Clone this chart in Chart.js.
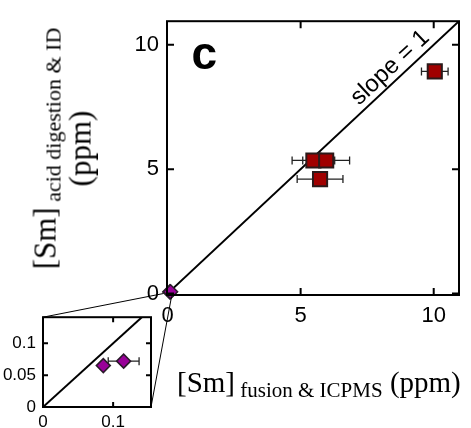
<!DOCTYPE html>
<html lang="en">
<head>
<meta charset="UTF-8">
<title>[Sm] acid digestion &amp; ID vs fusion &amp; ICPMS</title>
<script src="https://cdn.jsdelivr.net/npm/chart.js"></script>
<style>
  html, body { margin: 0; padding: 0; background: #fff; }
  body {
    width: 471px; height: 428px; position: relative; overflow: hidden;
    font-family: "Liberation Serif", "Times New Roman", serif;
  }
  canvas { position: absolute; }
  #mainChart { left: 0; top: 0; }
  #insetChart { left: 0; top: 300px; }
  .axis-title { position: absolute; color: #000; white-space: nowrap; font-size: 29px; }
  .axis-title .sub { font-size: 21px; position: relative; top: 5px; }
  #xTitle { left: 177px; top: 366px; }
  #yTitle {
    width: 340px; left: -107px; top: 115px; line-height: 32px; font-size: 31px;
    text-align: center; transform: rotate(-90deg);
  }
  #yTitle .sub { font-size: 22px; }
</style>
</head>
<body>
<canvas id="mainChart" width="471" height="428"></canvas>
<canvas id="insetChart" width="160" height="128"></canvas>
<div id="xTitle" class="axis-title">[Sm]<span class="sub"> fusion &amp; ICPMS</span> (ppm)</div>
<div id="yTitle" class="axis-title">[Sm]<span class="sub"> acid digestion &amp; ID</span><br>(ppm)</div>

<script>
// samples with x error bars (ppm)
const fusionIcpms = [5.48, 5.96, 5.73, 10.04];
const acidDigestion = [5.35, 5.35, 4.6, 8.93];
const fusionErr = [0.8, 0.88, 0.86, 0.5];

// low-Sm samples (shown in the inset)
const lowFusion = [0.086, 0.115];
const lowAcid = [0.065, 0.072];
const lowErr = [0.004, 0.022];

// 1:1 line
const slopeLine = [0, 11];

// ticks
const mainTicks = [0, 5, 10];
const insetXTicks = [0, 0.1];
const insetYTicks = [0, 0.05, 0.1];

const toPoints = (xs, ys) => xs.map((v, i) => ({ x: v, y: ys[i] }));
const sans = '"Liberation Sans", Arial, Helvetica, sans-serif';

// box + inward ticks on all four sides
function drawFrame(chart, tickLen) {
  const { ctx, chartArea: a, scales: { x, y } } = chart;
  ctx.save();
  ctx.strokeStyle = '#000';
  ctx.lineWidth = 2;
  ctx.strokeRect(a.left, a.top, a.right - a.left, a.bottom - a.top);
  ctx.beginPath();
  x.ticks.forEach(t => {
    const px = x.getPixelForValue(t.value);
    if (px <= a.left + 1 || px >= a.right - 1) return;
    ctx.moveTo(px, a.bottom); ctx.lineTo(px, a.bottom - tickLen);
    ctx.moveTo(px, a.top); ctx.lineTo(px, a.top + tickLen);
  });
  y.ticks.forEach(t => {
    const py = y.getPixelForValue(t.value);
    if (py >= a.bottom - 1 || py <= a.top + 1) return;
    ctx.moveTo(a.left, py); ctx.lineTo(a.left + tickLen, py);
    ctx.moveTo(a.right, py); ctx.lineTo(a.right - tickLen, py);
  });
  ctx.stroke();
  ctx.restore();
}

function drawErrorBars(chart, dsIndex, errs, cap) {
  const { ctx, scales: { x, y } } = chart;
  const data = chart.data.datasets[dsIndex].data;
  ctx.save();
  ctx.strokeStyle = '#222';
  ctx.lineWidth = 1.3;
  ctx.beginPath();
  data.forEach((p, i) => {
    const py = y.getPixelForValue(p.y);
    const x1 = x.getPixelForValue(p.x - errs[i]);
    const x2 = x.getPixelForValue(p.x + errs[i]);
    ctx.moveTo(x1, py); ctx.lineTo(x2, py);
    ctx.moveTo(x1, py - cap); ctx.lineTo(x1, py + cap);
    ctx.moveTo(x2, py - cap); ctx.lineTo(x2, py + cap);
  });
  ctx.stroke();
  ctx.restore();
}

function fixedTicks(values) {
  return scale => { scale.ticks = values.map(v => ({ value: v })); };
}
const plainLabel = v => String(v);

const squareStyle = {
  pointStyle: 'rect', pointRadius: 10, pointHoverRadius: 10,
  backgroundColor: '#a00000', borderColor: '#2b1a1a', pointBorderWidth: 2
};
const diamondStyle = {
  pointStyle: 'rectRot', pointRadius: 7, pointHoverRadius: 7,
  backgroundColor: '#990099', borderColor: '#2b1a2b', pointBorderWidth: 1.5
};

// ---------- inset ----------
const inset = new Chart(document.getElementById('insetChart'), {
  type: 'scatter',
  data: {
    datasets: [
      { data: toPoints(lowFusion, lowAcid), clip: false, order: 0, ...diamondStyle },
      {
        type: 'line', data: toPoints(slopeLine, slopeLine), order: 1,
        borderColor: '#000', borderWidth: 2, pointRadius: 0
      }
    ]
  },
  options: {
    responsive: false, devicePixelRatio: 1, animation: false,
    events: [],
    layout: { padding: { left: 3, top: 13, right: 9, bottom: 0 } },
    plugins: { legend: { display: false }, tooltip: { enabled: false } },
    scales: {
      x: {
        type: 'linear', min: 0, max: 0.154,
        afterBuildTicks: fixedTicks(insetXTicks),
        afterFit: s => { s.height = 21; },
        grid: { display: false, drawTicks: false }, border: { display: false },
        ticks: { padding: 5, color: '#000', callback: plainLabel, font: { family: sans, size: 17 } }
      },
      y: {
        type: 'linear', min: 0, max: 0.141,
        afterBuildTicks: fixedTicks(insetYTicks),
        afterFit: s => { s.width = 40; },
        grid: { display: false, drawTicks: false }, border: { display: false },
        ticks: { padding: 7, color: '#000', callback: plainLabel, font: { family: sans, size: 17 } }
      }
    }
  },
  plugins: [{
    id: 'insetDecor',
    beforeDatasetsDraw: c => drawErrorBars(c, 0, lowErr, 4),
    afterDraw: c => drawFrame(c, 5)
  }]
});

// ---------- main ----------
new Chart(document.getElementById('mainChart'), {
  type: 'scatter',
  data: {
    datasets: [
      { data: toPoints(fusionIcpms, acidDigestion), clip: false, order: 0, ...squareStyle },
      { data: toPoints(lowFusion, lowAcid), clip: false, order: 0, ...diamondStyle },
      {
        type: 'line', data: toPoints(slopeLine, slopeLine), order: 2,
        borderColor: '#000', borderWidth: 2, pointRadius: 0
      }
    ]
  },
  options: {
    responsive: false, devicePixelRatio: 1, animation: false,
    events: [],
    layout: { padding: { left: 127, top: 10, right: 1, bottom: 93 } },
    plugins: { legend: { display: false }, tooltip: { enabled: false } },
    scales: {
      x: {
        type: 'linear', min: -0.02, max: 10.95,
        afterBuildTicks: fixedTicks(mainTicks),
        afterFit: s => { s.height = 40; },
        grid: { display: false, drawTicks: false }, border: { display: false },
        ticks: { padding: 8, color: '#000', callback: plainLabel, font: { family: sans, size: 22 } }
      },
      y: {
        type: 'linear', min: -0.06, max: 10.95,
        afterBuildTicks: fixedTicks(mainTicks),
        afterFit: s => { s.width = 40; },
        grid: { display: false, drawTicks: false }, border: { display: false },
        ticks: { padding: 8, color: '#000', callback: plainLabel, font: { family: sans, size: 22 } }
      }
    }
  },
  plugins: [{
    id: 'mainDecor',
    beforeDatasetsDraw: c => drawErrorBars(c, 0, fusionErr, 4),
    afterDraw: c => {
      const { ctx, scales: { x, y } } = c;
      drawFrame(c, 7);

      // zoom lines from the origin to the inset box
      const ia = inset.chartArea;
      const ox = x.getPixelForValue(0), oy = y.getPixelForValue(0);
      ctx.save();
      ctx.strokeStyle = '#000';
      ctx.lineWidth = 1;
      ctx.beginPath();
      ctx.moveTo(ia.left, ia.top + 300); ctx.lineTo(ox - 4, oy);
      ctx.moveTo(ia.right, ia.bottom + 300); ctx.lineTo(ox + 4, oy + 3);
      ctx.stroke();

      // panel letter
      ctx.fillStyle = '#000';
      ctx.font = 'bold 46px ' + sans;
      ctx.textAlign = 'left';
      ctx.textBaseline = 'alphabetic';
      ctx.fillText('c', x.getPixelForValue(0.9), y.getPixelForValue(9.02));

      // label along the 1:1 line
      const ang = Math.atan2(y.getPixelForValue(10) - y.getPixelForValue(0),
                             x.getPixelForValue(10) - x.getPixelForValue(0));
      ctx.translate(x.getPixelForValue(8.7), y.getPixelForValue(8.7));
      ctx.rotate(ang);
      ctx.font = '24px ' + sans;
      ctx.textAlign = 'center';
      ctx.textBaseline = 'bottom';
      ctx.fillText('slope = 1', 0, -1);
      ctx.restore();
    }
  }]
});
</script>
</body>
</html>
